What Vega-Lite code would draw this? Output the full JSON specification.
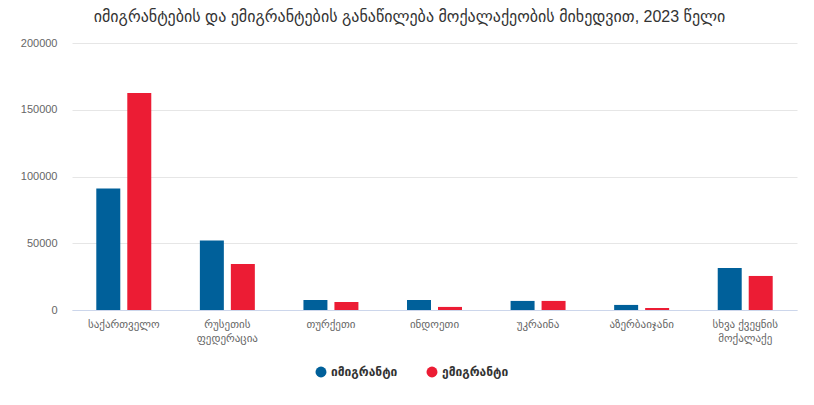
{
  "$schema": "https://vega.github.io/schema/vega-lite/v6.json",
  "description": "Immigrants and emigrants by citizenship, 2023",
  "autosize": {"type": "none"},
  "width": 725,
  "height": 267,
  "padding": {"left": 72, "top": 43, "right": 17, "bottom": 95},
  "background": "white",
  "title": {
    "text": "იმიგრანტების და ემიგრანტების განაწილება მოქალაქეობის მიხედვით, 2023 წელი",
    "font": "Liberation Sans, DejaVu Sans, sans-serif",
    "fontSize": 16,
    "fontWeight": "normal",
    "color": "#333333",
    "anchor": "middle",
    "offset": 12,
    "dx": -25
  },
  "data": {
    "values": [
      {"country": "საქართველო", "type": "იმიგრანტი", "value": 91000},
      {"country": "საქართველო", "type": "ემიგრანტი", "value": 162500},
      {"country": "რუსეთის ფედერაცია", "type": "იმიგრანტი", "value": 52000},
      {"country": "რუსეთის ფედერაცია", "type": "ემიგრანტი", "value": 34500},
      {"country": "თურქეთი", "type": "იმიგრანტი", "value": 7500},
      {"country": "თურქეთი", "type": "ემიგრანტი", "value": 6000},
      {"country": "ინდოეთი", "type": "იმიგრანტი", "value": 7500},
      {"country": "ინდოეთი", "type": "ემიგრანტი", "value": 2300},
      {"country": "უკრაინა", "type": "იმიგრანტი", "value": 6800},
      {"country": "უკრაინა", "type": "ემიგრანტი", "value": 6800},
      {"country": "აზერბაიჯანი", "type": "იმიგრანტი", "value": 3800},
      {"country": "აზერბაიჯანი", "type": "ემიგრანტი", "value": 1500},
      {"country": "სხვა ქვეყნის მოქალაქე", "type": "იმიგრანტი", "value": 31500},
      {"country": "სხვა ქვეყნის მოქალაქე", "type": "ემიგრანტი", "value": 25500}
    ]
  },
  "mark": {"type": "bar"},
  "encoding": {
    "x": {
      "field": "country",
      "type": "nominal",
      "sort": null,
      "scale": {"paddingInner": 0, "paddingOuter": 0},
      "axis": {
        "title": null,
        "labelAngle": 0,
        "ticks": false,
        "domainColor": "#ccd6eb",
        "labelColor": "#666666",
        "labelFont": "Liberation Sans, DejaVu Sans, sans-serif",
        "labelFontSize": 11,
        "labelLineHeight": 14,
        "labelPadding": 8,
        "labelExpr": "datum.value == 'სხვა ქვეყნის მოქალაქე' ? ['სხვა ქვეყნის', 'მოქალაქე'] : split(datum.value, ' ')"
      }
    },
    "xOffset": {
      "field": "type",
      "type": "nominal",
      "sort": ["იმიგრანტი", "ემიგრანტი"],
      "scale": {"paddingInner": 0.226, "paddingOuter": 0.784}
    },
    "y": {
      "field": "value",
      "type": "quantitative",
      "scale": {"domain": [0, 200000], "nice": false},
      "axis": {
        "title": null,
        "values": [0, 50000, 100000, 150000, 200000],
        "format": "d",
        "domain": false,
        "ticks": false,
        "gridColor": "#e6e6e6",
        "labelColor": "#666666",
        "labelFont": "Liberation Sans, DejaVu Sans, sans-serif",
        "labelFontSize": 11,
        "labelPadding": 15
      }
    },
    "color": {
      "field": "type",
      "type": "nominal",
      "scale": {"domain": ["იმიგრანტი", "ემიგრანტი"], "range": ["#00609a", "#ec1c34"]},
      "legend": {
        "title": null,
        "orient": "none",
        "legendX": 243,
        "legendY": 323,
        "direction": "horizontal",
        "symbolType": "circle",
        "symbolSize": 120,
        "symbolStrokeWidth": 0,
        "labelFont": "Liberation Sans, DejaVu Sans, sans-serif",
        "labelFontSize": 12,
        "labelFontWeight": "bold",
        "labelColor": "#333333",
        "columnPadding": 28
      }
    }
  },
  "config": {
    "view": {"stroke": null}
  }
}
